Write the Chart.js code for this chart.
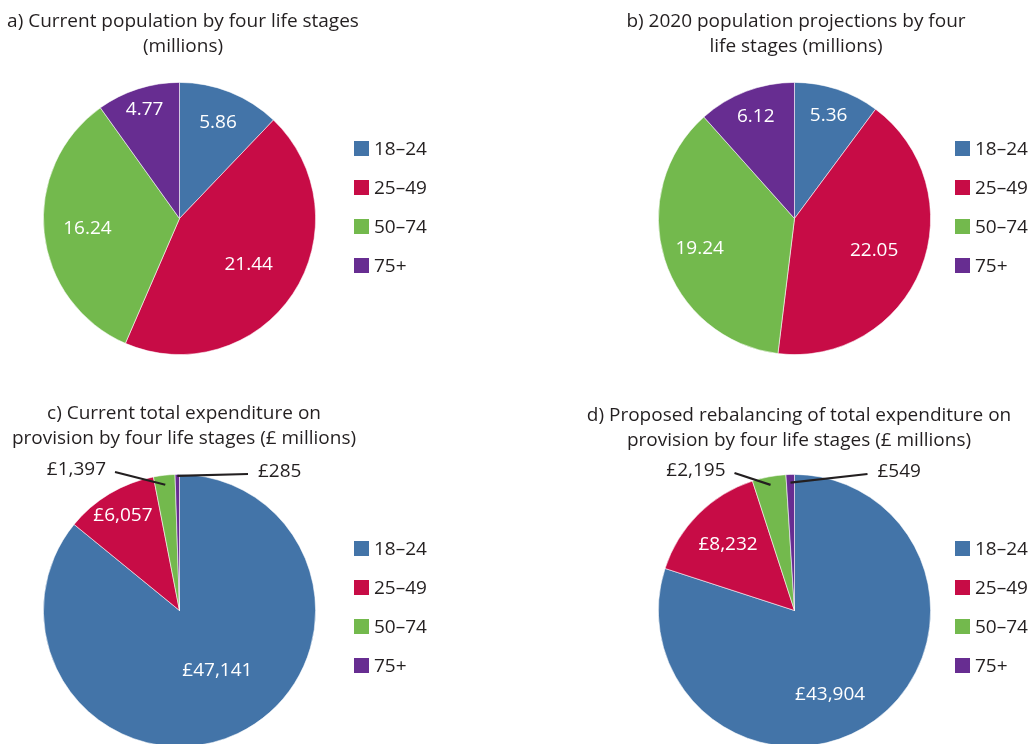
<!DOCTYPE html>
<html>
<head>
<meta charset="utf-8">
<script src="https://cdn.jsdelivr.net/npm/chart.js@4"></script>
<style>
  html, body { margin: 0; padding: 0; background: #fff; overflow: hidden; }
  #wrap { position: relative; width: 1034px; height: 744px; overflow: hidden; }
  #wrap canvas { position: absolute; }
</style>
</head>
<body>
<div id="wrap">
  <canvas id="pieA"></canvas>
  <canvas id="pieB"></canvas>
  <canvas id="pieC"></canvas>
  <canvas id="pieD"></canvas>
</div>
<script>
// life stage categories
var stages = ['18–24', '25–49', '50–74', '75+'];

// population, millions
var popCurrent = [5.86, 21.44, 16.24, 4.77];
var pop2020 = [5.36, 22.05, 19.24, 6.12];

// expenditure, £ millions
var spendCurrent = [47141, 6057, 1397, 285];
var spendProposed = [43904, 8232, 2195, 549];

var colours = ['#4374a8', '#c70c46', '#73b94d', '#672d91'];
var textColour = '#231f20';
var fontFamily = '"Open Sans", "Noto Sans", sans-serif';

function fmtPop(v) { return v.toFixed(2); }
function fmtPound(v) { return '£' + v.toLocaleString('en-GB'); }

// draws titles, legend, slice labels and leader lines
var panelDecor = {
    id: 'panelDecor',
    afterDatasetsDraw: function (chart, args, o) {
        var ctx = chart.ctx;
        var meta = chart.getDatasetMeta(0);
        var values = chart.data.datasets[0].data;
        ctx.save();

        // title
        ctx.fillStyle = textColour;
        ctx.font = o.titleSize + 'px ' + fontFamily;
        ctx.textAlign = 'center';
        ctx.textBaseline = 'alphabetic';
        o.title.forEach(function (line, i) {
            ctx.fillText(line, o.titleX, o.titleY + i * o.titleGap);
        });

        // legend
        ctx.font = o.legendSize + 'px ' + fontFamily;
        ctx.textAlign = 'left';
        ctx.textBaseline = 'middle';
        chart.data.labels.forEach(function (lab, i) {
            var cy = o.legendY + i * 39;
            ctx.fillStyle = colours[i];
            ctx.fillRect(o.legendX, cy - 7.5, 15, 15);
            ctx.fillStyle = textColour;
            ctx.fillText(lab, o.legendX + 20, cy + 1);
        });

        // slice labels
        ctx.font = o.labelSize + 'px ' + fontFamily;
        meta.data.forEach(function (arc, i) {
            var p = arc.getProps(['x', 'y', 'startAngle', 'endAngle', 'outerRadius'], true);
            var mid = (p.startAngle + p.endAngle) / 2;
            var text = o.format(values[i]);
            var out = o.outside && o.outside[i];
            if (out) {
                var ix = p.x + Math.cos(mid) * p.outerRadius * out.inner;
                var iy = p.y + Math.sin(mid) * p.outerRadius * out.inner;
                var ex = p.x + out.end[0];
                var ey = p.y + out.end[1];
                ctx.strokeStyle = textColour;
                ctx.lineWidth = 2.2;
                ctx.beginPath();
                ctx.moveTo(ix, iy);
                ctx.lineTo(ex, ey);
                ctx.stroke();
                ctx.fillStyle = textColour;
                ctx.textAlign = out.side === 'left' ? 'right' : 'left';
                ctx.fillText(text, ex + (out.side === 'left' ? -9 : 10), ey - 2);
            } else {
                var a = mid + (o.shift ? o.shift[i] : 0) * Math.PI / 180;
                var r = p.outerRadius * o.frac[i];
                ctx.fillStyle = '#ffffff';
                ctx.textAlign = 'center';
                ctx.fillText(text, p.x + Math.cos(a) * r, p.y + Math.sin(a) * r);
            }
        });
        ctx.restore();
    }
};

function makePie(id, box, values, padding, decor) {
    var el = document.getElementById(id);
    el.style.left = box[0] + 'px';
    el.style.top = box[1] + 'px';
    el.style.width = box[2] + 'px';
    el.style.height = box[3] + 'px';
    el.width = box[2];
    el.height = box[3];
    decor.titleSize = 19;
    decor.legendSize = 19;
    decor.labelSize = 19;
    decor.titleGap = 24.5;
    return new Chart(el.getContext('2d'), {
        type: 'pie',
        data: {
            labels: stages,
            datasets: [{
                data: values,
                backgroundColor: colours,
                borderColor: 'rgba(255,255,255,0.7)',
                borderWidth: 0.8
            }]
        },
        options: {
            responsive: false,
            animation: false,
            layout: { padding: padding },
            plugins: {
                legend: { display: false },
                tooltip: { enabled: false },
                panelDecor: decor
            }
        },
        plugins: [panelDecor]
    });
}

makePie('pieA', [0, 0, 517, 372], popCurrent,
    { left: 43, right: 201, top: 82, bottom: 17 }, {
    title: ['a) Current population by four life stages', '(millions)'],
    titleX: 183, titleY: 27,
    legendX: 354, legendY: 148.5,
    format: fmtPop,
    frac: [0.76, 0.61, 0.68, 0.84]
});

makePie('pieB', [517, 0, 517, 372], pop2020,
    { left: 141, right: 103, top: 82, bottom: 17 }, {
    title: ['b) 2020 population projections by four', 'life stages (millions)'],
    titleX: 279, titleY: 27,
    legendX: 438, legendY: 148.5,
    format: fmtPop,
    frac: [0.80, 0.63, 0.73, 0.80]
});

makePie('pieC', [0, 372, 517, 400], spendCurrent,
    { left: 43, right: 201, top: 102, bottom: 25 }, {
    title: ['c) Current total expenditure on', 'provision by four life stages (£ millions)'],
    titleX: 184, titleY: 47,
    legendX: 354, legendY: 176.5,
    format: fmtPound,
    frac: [0.52, 0.81, 0.7, 0.7],
    shift: [-7, 0, 0, 0],
    outside: {
        2: { inner: 0.93, end: [-64.5, -138.5], side: 'left' },
        3: { inner: 0.99, end: [68.5, -136.5], side: 'right' }
    }
});

makePie('pieD', [517, 372, 517, 400], spendProposed,
    { left: 141, right: 103, top: 102, bottom: 25 }, {
    title: ['d) Proposed rebalancing of total expenditure on', 'provision by four life stages (£ millions)'],
    titleX: 282, titleY: 49,
    legendX: 438, legendY: 176.5,
    format: fmtPound,
    frac: [0.67, 0.69, 0.7, 0.7],
    shift: [13, 0, 0, 0],
    outside: {
        2: { inner: 0.94, end: [-60, -137.5], side: 'left' },
        3: { inner: 0.94, end: [73, -136.5], side: 'right' }
    }
});
</script>
</body>
</html>
